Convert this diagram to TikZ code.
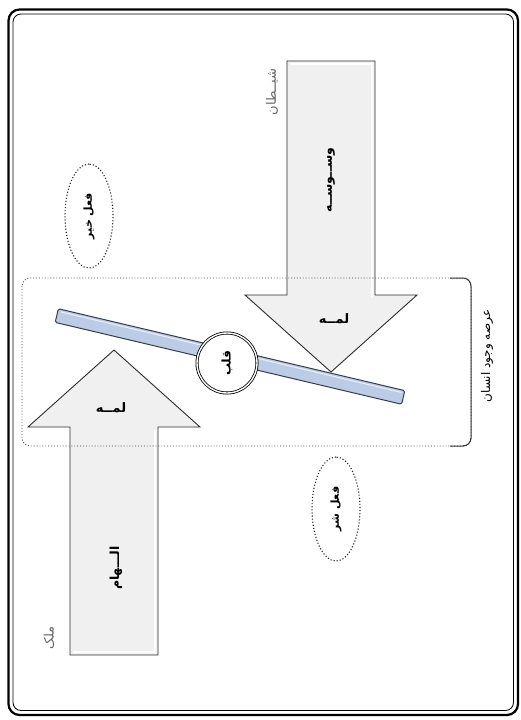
\documentclass[tikz,border=0pt]{standalone}
\usepackage{fontspec}
\newfontfamily\ar[Script=Arabic]{DejaVu Sans}
\TeXXeTstate=1
\usetikzlibrary{shapes.geometric}

\definecolor{arrowfill}{RGB}{240,240,240}
\definecolor{arrowline}{RGB}{45,45,45}
\definecolor{beamfill}{RGB}{188,204,230}
\definecolor{beamline}{RGB}{55,62,75}

\tikzset{
  bigarrow/.style={fill=arrowfill, draw=arrowline, line width=0.9pt, line join=miter},
  bevel/.style={draw=white, line width=1.6pt},
  artext/.style={font=\ar\bfseries\fontsize{12.5}{14}\selectfont, inner sep=0pt, text=black},
  arsmall/.style={font=\ar\bfseries\fontsize{13}{15}\selectfont, inner sep=0pt, text=black},
  agent/.style={font=\ar\fontsize{13}{15}\selectfont, inner sep=0pt, text=black!60},
  deed/.style={ellipse, draw=black!85, dotted, line width=1.1pt, minimum width=104pt,
               minimum height=48pt, inner sep=0pt, font=\ar\bfseries\fontsize{11}{13}\selectfont},
  arena/.style={draw=black!75, dotted, line width=0.9pt, rounded corners=8pt},
  beambar/.style={fill=beamfill, draw=beamline, line width=1pt, rounded corners=1.5pt},
  hub/.style={circle, fill=white, draw=black, double=white, double distance=1.4pt,
              line width=0.8pt, minimum size=60pt, inner sep=0pt,
              font=\ar\bfseries\fontsize{12}{14}\selectfont},
}

\begin{document}
\begin{tikzpicture}[x=1pt,y=-1pt]
\useasboundingbox (0,0) rectangle (521,720);
\fill[white] (0,0) rectangle (521,720);

% page frame: heavy outer line with a thin line inside it
\draw[line width=2.2pt, rounded corners=11pt] (8.5,9.5) rectangle (518,715);
\draw[line width=0.8pt, rounded corners=8pt] (13,14) rectangle (513.5,710.5);

% arrow from the top (Satan)
\draw[bigarrow] (287,61) -- (375,61) -- (375,295) -- (417,295) -- (331,372)
      -- (245,295) -- (287,295) -- cycle;
\draw[bevel] (290,64) -- (372,64) -- (372,298);
% arrow from the bottom (angel)
\draw[bigarrow] (70,655) -- (158,655) -- (158,427) -- (200,427) -- (114,350)
      -- (28,427) -- (70,427) -- cycle;
\draw[bevel] (73,652) -- (155,652) -- (155,430);

% arena of human existence
\draw[arena] (22,278) rectangle (471,446);
\draw[black!80, line width=1pt] (450,278) -- (463,278) arc[start angle=90, end angle=0, x radius=8, y radius=-8]
      -- (471,438) arc[start angle=0, end angle=-90, x radius=8, y radius=-8] -- (450,446);
\node[font=\ar\fontsize{12}{14}\selectfont, rotate=90, inner sep=0pt] (arenaLabel) at (487,356)
      {\beginR عرصه وجود انسان\endR};

% balance beam with the heart at its pivot
\begin{scope}[shift={(230,356.5)}, rotate=-13.3]
  \draw[beambar] (-178,-7) rectangle (178,7);
  \draw[white, line width=1pt, opacity=0.7] (-175,-4.5) -- (175,-4.5);
\end{scope}
\node[hub, rotate=90] (heart) at (227,363) {\beginR قلب\endR};

% texts on the arrows
\node[artext, rotate=90] (whisper) at (331,180) {\beginR وســوســه\endR};
\node[artext, rotate=90] (inspire) at (116,568) {\beginR الـــهام\endR};
\node[arsmall] (touchS) at (334,319) {\beginR لمــه\endR};
\node[arsmall] (touchA) at (111,408) {\beginR لمــه\endR};

% the two sources
\node[agent, rotate=90] (satan) at (272,92) {\beginR شیــطان\endR};
\node[agent, rotate=90] (angel) at (49,638) {\beginR ملک\endR};

% good and evil deeds
\node[deed, rotate=90] (good) at (89,216) {\beginR فعل خیر\endR};
\node[deed, rotate=90] (evil) at (336,509) {\beginR فعل شر\endR};
\end{tikzpicture}
\end{document}
